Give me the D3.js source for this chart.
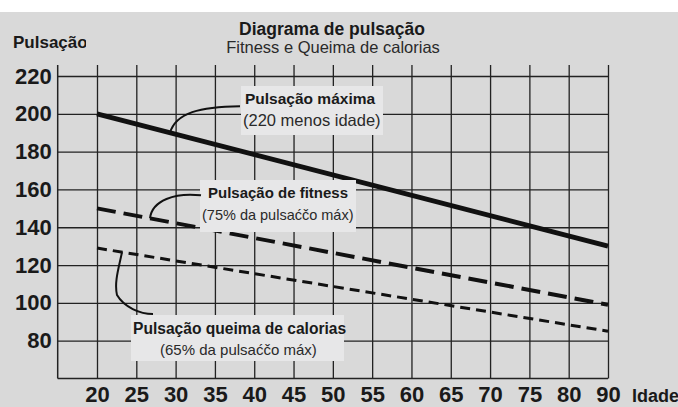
<!DOCTYPE html>
<html>
<head>
<meta charset="utf-8">
<script src="https://cdn.jsdelivr.net/npm/d3@7"></script>
<style>
  body { margin: 0; background: #fff; }
  svg { display: block; font-family: "Liberation Sans", Arial, sans-serif; }
</style>
</head>
<body>
<div id="chart"></div>
<script>
// categories on the x axis (equally spaced, note the jump 80 -> 90)
var ageTicks = [20, 25, 30, 35, 40, 45, 50, 55, 60, 65, 70, 75, 80, 90];
var pulseTicks = [80, 100, 120, 140, 160, 180, 200, 220];

// series (start and end of each line)
var lineAges = [20, 90];
var maxPulse = [200, 130];
var fitnessPulse = [150, 99];
var burnPulse = [129, 85];

var svgWidth = 678;
var svgHeight = 407;

var svg = d3.select("#chart")
    .append("svg")
    .attr("width", svgWidth)
    .attr("height", svgHeight);

// grey panel
svg.append("rect")
    .attr("x", 0)
    .attr("y", 12)
    .attr("width", svgWidth)
    .attr("height", svgHeight - 12)
    .attr("fill", "#d9d9d9");

// scales
var xScale = d3.scalePoint()
    .domain(ageTicks)
    .range([97, 608]);

var x0 = xScale(ageTicks[0]) - xScale.step();
var xRight = xScale(ageTicks[ageTicks.length - 1]);

var yScale = d3.scaleLinear()
    .domain([60, 220])
    .range([378.5, 76]);

var gridTop = 65;

// horizontal grid + y labels
var yAxis = d3.axisLeft(yScale)
    .tickValues(pulseTicks)
    .tickSize(-(xRight - x0))
    .tickPadding(6);

var yG = svg.append("g")
    .attr("transform", `translate(${x0}, 0)`)
    .call(yAxis);

// vertical grid + x labels
var xAxis = d3.axisBottom(xScale)
    .tickSize(-(yScale(60) - gridTop))
    .tickPadding(7.5);

var xG = svg.append("g")
    .attr("transform", `translate(0, ${yScale(60)})`)
    .call(xAxis);

[yG, xG].forEach(function (g) {
    g.select(".domain").remove();
    g.selectAll(".tick line")
        .attr("stroke", "#222")
        .attr("stroke-width", 1.3);
    g.selectAll(".tick text")
        .attr("fill", "#1a1a1a")
        .style("font-size", "22px")
        .style("font-weight", "bold");
});

// axis lines
svg.append("line")
    .attr("x1", x0).attr("x2", x0)
    .attr("y1", gridTop).attr("y2", yScale(60))
    .attr("stroke", "#222").attr("stroke-width", 1.5);
svg.append("line")
    .attr("x1", x0).attr("x2", xRight)
    .attr("y1", yScale(60)).attr("y2", yScale(60))
    .attr("stroke", "#222").attr("stroke-width", 1.5);

// lines
var series = [
    { values: maxPulse, width: 5, dash: null },
    { values: fitnessPulse, width: 4, dash: "19 8" },
    { values: burnPulse, width: 3, dash: "10 6" }
];

var line = d3.line()
    .x(d => xScale(d.age))
    .y(d => yScale(d.v));

series.forEach(function (s) {
    var pts = lineAges.map((a, i) => ({ age: a, v: s.values[i] }));
    s.pts = pts;
    svg.append("path")
        .attr("d", line(pts))
        .attr("fill", "none")
        .attr("stroke", "#111")
        .attr("stroke-width", s.width)
        .attr("stroke-dasharray", s.dash);
});

// point on a series line at pixel x
function onLine(s, px) {
    var xa = xScale(s.pts[0].age), xb = xScale(s.pts[1].age);
    var ya = yScale(s.pts[0].v), yb = yScale(s.pts[1].v);
    return [px, ya + (yb - ya) * (px - xa) / (xb - xa)];
}

// label boxes
var labels = [
    { box: [241, 86, 142, 49], title: "Pulsação máxima", tx: 245, ty: 104, ts: 15.5,
      sub: "(220 menos idade)", sx: 243, sy: 126, ss: 16.5 },
    { box: [200, 180, 156, 52], title: "Pulsação de fitness", tx: 208, ty: 198, ts: 15,
      sub: "(75% da pulsaćčo máx)", sx: 202, sy: 220, ss: 14.5 },
    { box: [131, 315, 213, 46], title: "Pulsação queima de calorias", tx: 133, ty: 334, ts: 15.6,
      sub: "(65% da pulsaćčo máx)", sx: 160, sy: 355, ss: 15 }
];

labels.forEach(function (l) {
    svg.append("rect")
        .attr("x", l.box[0]).attr("y", l.box[1])
        .attr("width", l.box[2]).attr("height", l.box[3])
        .attr("fill", "#e7e7e8");
    svg.append("text")
        .attr("x", l.tx).attr("y", l.ty)
        .attr("fill", "#1a1a1a")
        .style("font-size", l.ts + "px")
        .style("font-weight", "bold")
        .text(l.title);
    svg.append("text")
        .attr("x", l.sx).attr("y", l.sy)
        .attr("fill", "#2a2a2a")
        .style("font-size", l.ss + "px")
        .text(l.sub);
});

// callout curves
var p1 = onLine(series[0], 170);
var p2 = onLine(series[1], 150);
var p3 = onLine(series[2], 122);
var callouts = [
    `M${p1[0]},${p1[1]} C${p1[0] + 6},${p1[1] - 20} ${p1[0] + 30},${p1[1] - 26} 240,${p1[1] - 26.5}`,
    `M${p2[0]},${p2[1]} C${p2[0] + 2},${p2[1] - 18} ${p2[0] + 25},${p2[1] - 26} 201,${p2[1] - 23}`,
    `M${p3[0]},${p3[1]} C${p3[0] - 3},${p3[1] + 15} ${p3[0] - 8},${p3[1] + 30} ${p3[0] - 5},${p3[1] + 43} C${p3[0] + 2},${p3[1] + 55} ${p3[0] + 18},${p3[1] + 62} 153,${p3[1] + 62}`
];
callouts.forEach(function (d) {
    svg.append("path")
        .attr("d", d)
        .attr("fill", "none")
        .attr("stroke", "#111")
        .attr("stroke-width", 2);
});

// titles
svg.append("text")
    .attr("x", 332).attr("y", 35)
    .attr("text-anchor", "middle")
    .attr("fill", "#1a1a1a")
    .style("font-size", "17.5px")
    .style("font-weight", "bold")
    .text("Diagrama de pulsação");

svg.append("text")
    .attr("x", 333).attr("y", 53)
    .attr("text-anchor", "middle")
    .attr("fill", "#2a2a2a")
    .style("font-size", "16.5px")
    .text("Fitness e Queima de calorias");

// y axis title, cut at the right like the original
svg.append("clipPath")
    .attr("id", "yclip")
    .append("rect")
    .attr("x", 0).attr("y", 20).attr("width", 86).attr("height", 40);

svg.append("text")
    .attr("x", 13).attr("y", 48)
    .attr("clip-path", "url(#yclip)")
    .attr("fill", "#1a1a1a")
    .style("font-size", "17px")
    .style("font-weight", "bold")
    .text("Pulsação");

// x axis title
svg.append("text")
    .attr("x", 632).attr("y", 402)
    .attr("fill", "#1a1a1a")
    .style("font-size", "18px")
    .style("font-weight", "bold")
    .text("Idade");
</script>
</body>
</html>
